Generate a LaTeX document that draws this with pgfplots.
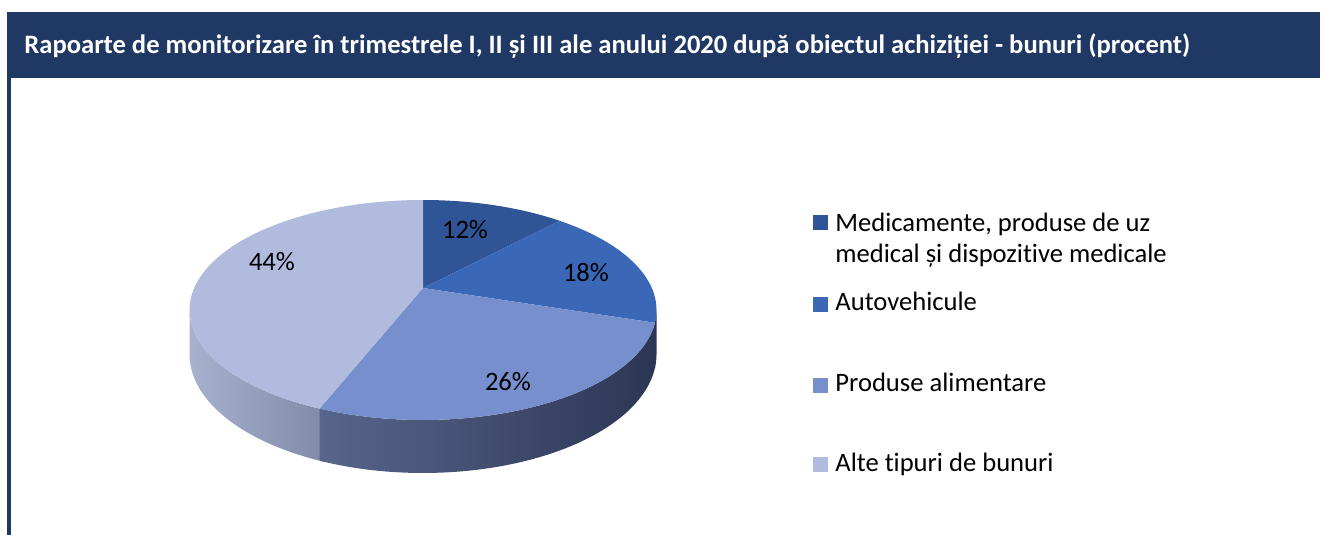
\documentclass[border=0pt]{standalone}
\usepackage{fontspec}
\setmainfont{Carlito}[Ligatures=NoCommon]
\usepackage{pgfplots}
\pgfplotsset{compat=1.18}
\definecolor{barblue}{HTML}{203864}
\definecolor{sliceA}{HTML}{2F5597}
\definecolor{sliceB}{HTML}{3A67B6}
\definecolor{sliceC}{HTML}{778FCC}
\definecolor{sliceD}{HTML}{B0BBDD}
\definecolor{sideDl}{HTML}{A8B1CD}
\definecolor{sideDr}{HTML}{808AA7}
\definecolor{sideCl}{HTML}{58658C}
\definecolor{sideCr}{HTML}{2C3654}

% shares (percent)
\def\vA{12}\def\vB{18}\def\vC{26}\def\vD{44}
% slice boundaries, clockwise from 12 o'clock
\pgfmathsetmacro\tA{90}
\pgfmathsetmacro\tB{\tA-3.6*\vA}
\pgfmathsetmacro\tC{\tB-3.6*\vB}
\pgfmathsetmacro\tD{\tC-3.6*\vC}
\pgfmathsetmacro\tE{\tD-3.6*\vD}
% silhouette of the side wall
\pgfmathsetmacro\sR{-asin(0.2)}
\pgfmathsetmacro\sL{-180+asin(0.2)}
% small overlaps so that no seam shows between side walls
\pgfmathsetmacro\tDx{\tD+2}
\pgfmathsetmacro\tCx{\tC+2}

\begin{document}
\begin{tikzpicture}
\useasboundingbox (0,0) rectangle (665pt,267.5pt);
\begin{axis}[
    scale only axis,
    width=665pt, height=267.5pt,
    xmin=0, xmax=1330, ymin=0, ymax=535,
    y dir=reverse,
    hide axis,
    clip=false,
    declare function={
        px(\a)=423+228.8*cos(\a)/(1+0.2*sin(\a));
        py(\a)=288-105.6*sin(\a)/(1+0.2*sin(\a));
        dd(\a)=42.4/(1+0.2*sin(\a));
        sa(\t,\a,\b)=ifthenelse(\t<=1,\a+(\b-\a)*\t,\b+(\a-\b)*(\t-1));
    },
]
% frame
\fill[barblue] (axis cs:7,12) rectangle (axis cs:1320,78);
\fill[barblue] (axis cs:7,78) rectangle (axis cs:11,535);
\node[anchor=base west, inner sep=0pt, text=white, font=\fontsize{13.3}{16}\selectfont\bfseries]
    at (axis cs:24,54) {Rapoarte de monitorizare în trimestrele I, II și III ale anului 2020 după obiectul achiziției - bunuri (procent)};

% side walls
\addplot[draw=none, left color=sideDl, right color=sideDr, variable=\t, domain=0:2, samples=121]
    ({px(sa(\t,\sL,\tDx))}, {py(sa(\t,\sL,\tDx))+(\t>1)*dd(sa(\t,\sL,\tDx))});
\addplot[draw=none, left color=sideCl, right color=sideCr, variable=\t, domain=0:2, samples=121]
    ({px(sa(\t,\tD,\tCx))}, {py(sa(\t,\tD,\tCx))+(\t>1)*dd(sa(\t,\tD,\tCx))});
\addplot[draw=none, fill=sideCr, variable=\t, domain=0:2, samples=41]
    ({px(sa(\t,\tC,\sR))}, {py(sa(\t,\tC,\sR))+(\t>1)*dd(sa(\t,\tC,\sR))});

% top faces
\addplot[draw=none, fill=sliceA, variable=\t, domain=\tB:\tA, samples=60]
    ({px(\t)}, {py(\t)}) -- (axis cs:423,288) -- cycle;
\addplot[draw=none, fill=sliceB, variable=\t, domain=\tC:\tB, samples=60]
    ({px(\t)}, {py(\t)}) -- (axis cs:423,288) -- cycle;
\addplot[draw=none, fill=sliceC, variable=\t, domain=\tD:\tC, samples=80]
    ({px(\t)}, {py(\t)}) -- (axis cs:423,288) -- cycle;
\addplot[draw=none, fill=sliceD, variable=\t, domain=\tE:\tD, samples=120]
    ({px(\t)}, {py(\t)}) -- (axis cs:423,288) -- cycle;

% data labels
\begin{scope}[every node/.style={font=\fontsize{13.3}{15}\selectfont, text=black}]
\node at (axis cs:465,230) {\vA\%};
\node at (axis cs:586,273) {\vB\%};
\node at (axis cs:508,382) {\vC\%};
\node at (axis cs:272,262) {\vD\%};
\end{scope}

% legend
\begin{scope}[every node/.style={font=\fontsize{13.3}{15.5}\selectfont, text=black, anchor=base west, inner sep=0pt}]
\fill[sliceA] (axis cs:813,215) rectangle (axis cs:828,230);
\node at (axis cs:835,232) {Medicamente, produse de uz};
\node at (axis cs:835,263) {medical și dispozitive medicale};
\fill[sliceB] (axis cs:813,297) rectangle (axis cs:828,312);
\node at (axis cs:835,311) {Autovehicule};
\fill[sliceC] (axis cs:813,378) rectangle (axis cs:828,393);
\node at (axis cs:835,392) {Produse alimentare};
\fill[sliceD] (axis cs:813,457) rectangle (axis cs:828,472);
\node at (axis cs:835,471) {Alte tipuri de bunuri};
\end{scope}
\end{axis}
\end{tikzpicture}
\end{document}
